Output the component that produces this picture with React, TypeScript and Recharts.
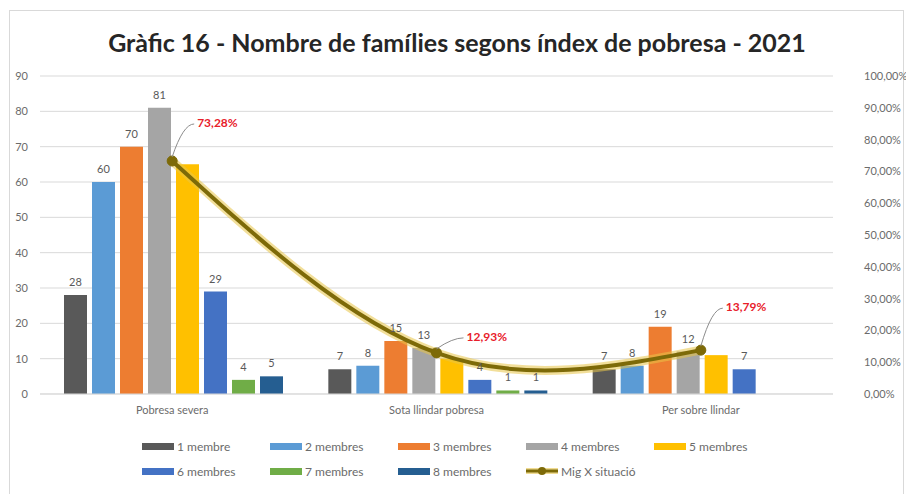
import {
  ComposedChart,
  Bar,
  Line,
  XAxis,
  YAxis,
  CartesianGrid,
  LabelList,
} from 'recharts'

const categories = ['Pobresa severa', 'Sota llindar pobresa', 'Per sobre llindar']
const membres1 = [28, 7, 7]
const membres2 = [60, 8, 8]
const membres3 = [70, 15, 19]
const membres4 = [81, 13, 12]
const membres5 = [65, 10, 11]
const membres6 = [29, 4, 7]
const membres7 = [4, 1, 0]
const membres8 = [5, 1, 0]
const migSituacio = [0.7328, 0.1293, 0.1379]

const leftTicks = [0, 10, 20, 30, 40, 50, 60, 70, 80, 90]
const rightTicks = [0, 0.1, 0.2, 0.3, 0.4, 0.5, 0.6, 0.7, 0.8, 0.9, 1]

const barSeries = [
  { key: 'm1', name: '1 membre', values: membres1, color: '#595959' },
  { key: 'm2', name: '2 membres', values: membres2, color: '#5b9bd5' },
  { key: 'm3', name: '3 membres', values: membres3, color: '#ed7d31' },
  { key: 'm4', name: '4 membres', values: membres4, color: '#a5a5a5' },
  { key: 'm5', name: '5 membres', values: membres5, color: '#ffc000' },
  { key: 'm6', name: '6 membres', values: membres6, color: '#4472c4' },
  { key: 'm7', name: '7 membres', values: membres7, color: '#70ad47' },
  { key: 'm8', name: '8 membres', values: membres8, color: '#255e91' },
]
const lineName = 'Mig X situació'
const lineColor = '#7d6a08'

const data = categories.map((cat, i) => {
  const row: Record<string, string | number> = { cat, mig: migSituacio[i] }
  barSeries.forEach((s) => {
    row[s.key] = s.values[i]
  })
  return row
})

const FONT = 'Lato, "Open Sans", sans-serif'
const TEXT = '#595959'

const fmtPct = (v: number) => `${(v * 100).toFixed(2).replace('.', ',')}%`

// where each red percentage label sits relative to its point
const labelOffsets = [
  { dx: 25, dy: -37 },
  { dx: 30, dy: -15 },
  { dx: 25, dy: -42 },
]

function PctLabel(props: any) {
  const { x, y, value, index } = props
  const o = labelOffsets[index] || { dx: 20, dy: -30 }
  const tx = x + o.dx
  const ty = y + o.dy
  return (
    <g>
      <path
        d={`M${x},${y - 4} Q${tx - 14},${ty} ${tx - 3},${ty}`}
        stroke="#8c8c8c"
        strokeWidth={1}
        fill="none"
      />
      <text
        x={tx}
        y={ty}
        dominantBaseline="middle"
        fill="#e8202a"
        fontWeight={700}
        fontSize={12}
        fontFamily={FONT}
      >
        {fmtPct(value)}
      </text>
    </g>
  )
}

function LegendBox() {
  const items = [
    ...barSeries.map((s) => ({ name: s.name, color: s.color, line: false })),
    { name: lineName, color: lineColor, line: true },
  ]
  return (
    <div
      style={{
        position: 'absolute',
        left: 142,
        top: 438,
        width: 650,
        display: 'flex',
        flexWrap: 'wrap',
        rowGap: 9,
        fontFamily: FONT,
        fontSize: 12,
        color: '#6b6b6b',
      }}
    >
      {items.map((it) => (
        <div key={it.name} style={{ width: 128, display: 'flex', alignItems: 'center', height: 16 }}>
          {it.line ? (
            <svg width={32} height={12} style={{ marginRight: 3 }}>
              <line x1={0} y1={6} x2={32} y2={6} stroke="#e6c34a" strokeOpacity={0.6} strokeWidth={6} />
              <line x1={0} y1={6} x2={32} y2={6} stroke={it.color} strokeWidth={3} />
              <circle cx={16} cy={6} r={4} fill={it.color} />
            </svg>
          ) : (
            <span style={{ display: 'inline-block', width: 32, height: 7, background: it.color, marginRight: 3 }} />
          )}
          <span>{it.name}</span>
        </div>
      ))}
    </div>
  )
}

export default function App() {
  return (
    <div
      style={{
        position: 'absolute',
        left: 0,
        top: 0,
        width: 906,
        height: 494,
        overflow: 'hidden',
        background: '#fff',
        fontFamily: FONT,
      }}
    >
      <div
        style={{
          position: 'absolute',
          left: 9,
          top: 10,
          width: 893,
          height: 500,
          border: '1px solid #d9d9d9',
        }}
      />
      <div
        style={{
          position: 'absolute',
          left: 0,
          top: 27,
          width: 914,
          textAlign: 'center',
          fontSize: 25,
          fontWeight: 700,
          color: '#262626',
        }}
      >
        Gràfic 16 - Nombre de famílies segons índex de pobresa - 2021
      </div>
      <div style={{ position: 'absolute', left: 0, top: 0 }}>
        <ComposedChart
          width={906}
          height={494}
          data={data}
          margin={{ top: 76, right: 0, bottom: 70, left: 0 }}
          barCategoryGap={24}
          barGap={5}
        >
          <CartesianGrid yAxisId="left" vertical={false} stroke="#d9d9d9" />
          <XAxis
            dataKey="cat"
            axisLine={{ stroke: '#d9d9d9' }}
            tickLine={false}
            tickMargin={6}
            height={30}
            tick={{ fill: '#6b6b6b', fontSize: 11, fontFamily: FONT }}
          />
          <YAxis
            yAxisId="left"
            domain={[0, 90]}
            ticks={leftTicks}
            width={40}
            axisLine={false}
            tickLine={false}
            tickMargin={6}
            tick={{ fill: '#6b6b6b', fontSize: 11, fontFamily: FONT }}
          />
          <YAxis
            yAxisId="right"
            orientation="right"
            domain={[0, 1]}
            ticks={rightTicks}
            tickFormatter={fmtPct}
            width={73}
            axisLine={false}
            tickLine={false}
            tickMargin={25}
            tick={{ fill: '#6b6b6b', fontSize: 11, fontFamily: FONT, textAnchor: 'start' }}
          />
          {barSeries.map((s) => (
            <Bar
              key={s.key}
              yAxisId="left"
              dataKey={s.key}
              name={s.name}
              fill={s.color}
              isAnimationActive={false}
            >
              {s.key !== 'm5' && (
                <LabelList
                  dataKey={s.key}
                  position="top"
                  offset={9}
                  fill={TEXT}
                  fontSize={11}
                  fontFamily={FONT}
                />
              )}
            </Bar>
          ))}
          {/* soft yellow glow under the average line */}
          <Line
            yAxisId="right"
            type="natural"
            dataKey="mig"
            stroke="#e8c547"
            strokeOpacity={0.55}
            strokeWidth={9}
            dot={false}
            activeDot={false}
            legendType="none"
            isAnimationActive={false}
          />
          <Line
            yAxisId="right"
            type="natural"
            dataKey="mig"
            name={lineName}
            stroke={lineColor}
            strokeWidth={4}
            dot={{ r: 5, fill: lineColor, stroke: lineColor, strokeWidth: 1 }}
            activeDot={false}
            isAnimationActive={false}
          >
            <LabelList dataKey="mig" content={PctLabel} />
          </Line>
        </ComposedChart>
      </div>
      <LegendBox />
    </div>
  )
}
